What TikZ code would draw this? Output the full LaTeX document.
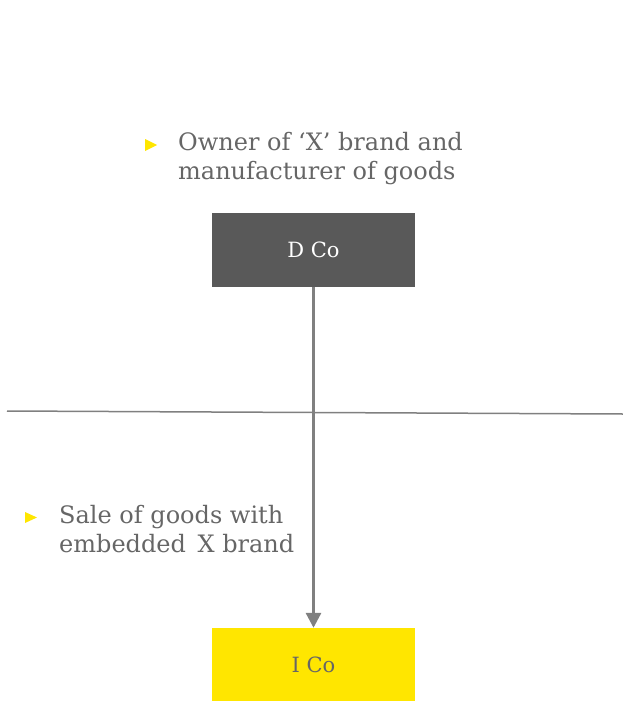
\documentclass[tikz,border=0pt]{standalone}
\usepackage{fontspec}
\setmainfont{DejaVu Serif}
\usetikzlibrary{arrows.meta}
\definecolor{boxdark}{HTML}{595959}
\definecolor{boxyellow}{HTML}{FFE600}
\definecolor{txtgray}{HTML}{666666}
\definecolor{linegray}{HTML}{808080}
\begin{document}
\begin{tikzpicture}[x=1pt,y=-1pt,
  entity/.style={minimum width=203pt,minimum height=74pt,inner sep=0pt,font=\fontsize{21}{24}\selectfont},
  note/.style={anchor=base west,align=left,inner sep=0pt,text=txtgray,font=\fontsize{24}{28.5}\selectfont},
  bullet/.style={fill=boxyellow,draw=none}]
\useasboundingbox (0,0) rectangle (623,701);
% entities
\node[entity,fill=boxdark,text=white] (d) at (313.5,250) {D Co};
\node[entity,fill=boxyellow,text=txtgray] (i) at (313.5,665) {I Co};
% divider
\coordinate (l1) at (7,411);
\coordinate (l2) at (623,414);
\draw[linegray,line width=1.5pt] (l1) -- (l2);
% flow of goods
\draw[linegray,line width=3pt,-{Triangle[length=15pt,width=15pt]}] (d.south) -- (i.north);
% notes (anchored on the baseline of their last line)
\fill[bullet] (145,139) -- (157,145) -- (145,151) -- cycle;
\node[note] (n1) at (178,179) {Owner of ‘X’ brand and\\manufacturer of goods};
\fill[bullet] (25,512) -- (37,517.5) -- (25,523) -- cycle;
\node[note] (n2) at (59,552) {Sale of goods with\\embedded\, X brand};
\end{tikzpicture}
\end{document}
